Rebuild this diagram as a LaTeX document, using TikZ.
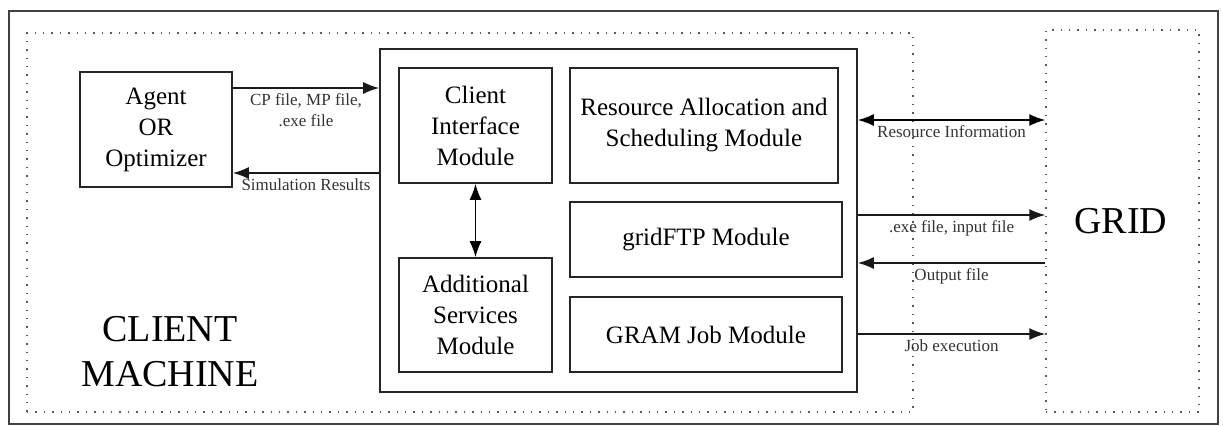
\documentclass[tikz,border=0pt]{standalone}
\usepackage{fontspec}
\setmainfont{Liberation Serif}
\usetikzlibrary{arrows.meta}

\begin{document}
\begin{tikzpicture}[x=0.5pt,y=-0.5pt,>={Latex[length=8pt,width=6pt]},line width=0.8pt]
    \tikzstyle{module}=[rectangle,draw=black!85,align=center,font=\fontsize{12.5}{15.5}\selectfont,inner sep=0pt]
    \tikzstyle{area}=[rectangle,draw=black!65,dash pattern=on 0.7pt off 3.5pt,line width=0.7pt,inner sep=0pt]
    \tikzstyle{flow}=[->,draw=black!90]
    \tikzstyle{tag}=[font=\fontsize{8.5}{10.5}\selectfont,align=center,inner sep=2.5pt,text=black!80]
    \tikzstyle{big}=[font=\fontsize{19}{22.5}\selectfont,align=center,inner sep=0pt]
    \useasboundingbox (0,0) rectangle (1223,425);
    \draw[line width=1pt,black!75] (9,11) rectangle (1218,424);
    % dotted areas
    \node[area,minimum width=443pt,minimum height=189.5pt](client) at (470,222.5) {};
    \node[area,minimum width=76.5pt,minimum height=191pt](grid) at (1122.5,221) {};
    \node[big](clientname) at (170,352) {CLIENT\\MACHINE};
    \node[big](gridname) at (1121,221) {GRID};
    % client side
    \node[module,minimum width=76pt,minimum height=57.5pt](agent) at (156,129.5) {Agent\\OR\\Optimizer};
    \node[module,minimum width=238.5pt,minimum height=171.5pt](main) at (618.5,220.5) {};
    \node[module,minimum width=76.5pt,minimum height=57.5pt](ci) at (475.5,125.5) {Client\\Interface\\Module};
    \node[module,minimum width=76.5pt,minimum height=57pt](as) at (475.5,315) {Additional\\Services\\Module};
    \node[module,minimum width=134pt,minimum height=57.5pt](ra) at (704,125.5) {Resource Allocation and\\Scheduling Module};
    \node[module,minimum width=136pt,minimum height=37.5pt](ftp) at (706,239.5) {gridFTP Module};
    \node[module,minimum width=136pt,minimum height=37.5pt](gram) at (706,334.5) {GRAM Job Module};
    % connections
    \draw[flow] (agent.east |- 0,88) -- node[tag,below] {CP file, MP file,\\.exe file} (main.west |- 0,88);
    \draw[flow] (main.west |- 0,173) -- node[tag,below] {Simulation Results} (agent.east |- 0,173);
    \draw[<->] (ci) -- (as);
    \draw[<->] (main.east |- 0,120) -- node[tag,below] {Resource Information} (grid.west |- 0,120);
    \draw[flow] (main.east |- 0,215) -- node[tag,below] {.exe file, input file} (grid.west |- 0,215);
    \draw[flow] (grid.west |- 0,263) -- node[tag,below] {Output file} (main.east |- 0,263);
    \draw[flow] (main.east |- 0,334) -- node[tag,below] {Job execution} (grid.west |- 0,334);
\end{tikzpicture}
\end{document}
